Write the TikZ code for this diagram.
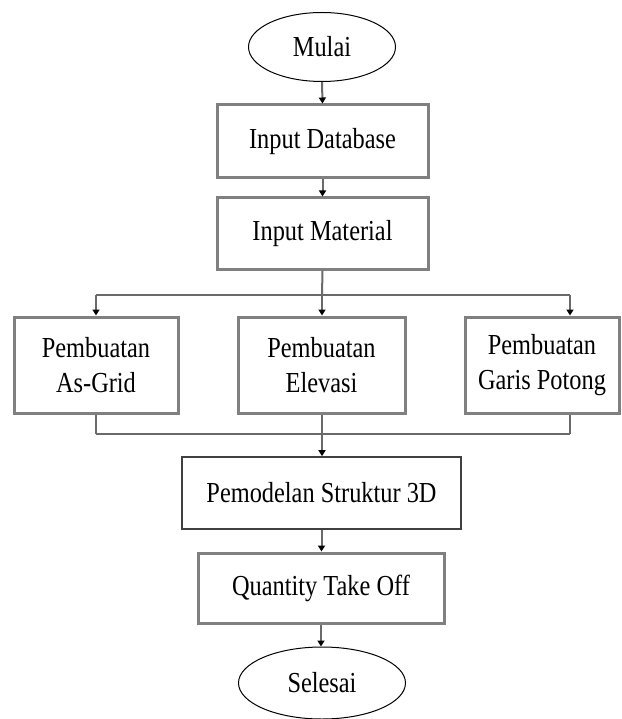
\documentclass[tikz,border=0pt]{standalone}
\usepackage{fontspec}
\setmainfont{Liberation Serif}
\usetikzlibrary{shapes.geometric,arrows.meta}
\definecolor{boxgray}{HTML}{808080}
\definecolor{linegray}{HTML}{6A6A6A}
\newcommand{\sq}[1]{\scalebox{0.84}[1]{#1}}
\begin{document}
\begin{tikzpicture}[x=1pt,y=-1pt,
  every node/.style={font=\fontsize{29}{35}\selectfont, align=center, inner sep=0pt},
  term/.style={ellipse, draw=black, line width=1pt},
  gbox/.style={rectangle, draw=boxgray, line width=3pt},
  dbox/.style={rectangle, draw=black!75, line width=1.6pt},
  conn/.style={draw=linegray, line width=2pt},
  arr/.style={conn, -{Triangle[length=6pt,width=7pt,color=black]}}]
\useasboundingbox (0,0) rectangle (621,719);
\node[term, minimum width=147pt, minimum height=69pt] (mulai) at (322,47) {\sq{Mulai}};
\node[gbox, minimum width=211pt, minimum height=73pt] (db) at (322.5,141.5) {\sq{Input Database}};
\node[gbox, minimum width=211pt, minimum height=71pt] (mat) at (322.5,233.5) {\sq{Input Material}};
\node[gbox, minimum width=164pt, minimum height=96pt] (grid) at (96,365) {\sq{Pembuatan}\\\sq{As-Grid}};
\node[gbox, minimum width=167pt, minimum height=96pt] (elev) at (321.5,365) {\sq{Pembuatan}\\\sq{Elevasi}};
\node[gbox, minimum width=154pt, minimum height=96pt] (garis) at (542,365) {\sq{Pembuatan}\\\sq{Garis Potong}};
\node[dbox, minimum width=279pt, minimum height=72pt] (pem) at (321.5,493) {\sq{Pemodelan Struktur 3D}};
\node[gbox, minimum width=246pt, minimum height=70pt] (qto) at (321,588) {\sq{Quantity Take Off}};
\node[term, minimum width=167pt, minimum height=72pt] (sel) at (322,683) {\sq{Selesai}};

\coordinate (tl) at (96,295);
\coordinate (tm) at (322,295);
\coordinate (tr) at (570,295);
\coordinate (bl) at (96,434);
\coordinate (bm) at (322,434);
\coordinate (br) at (570,434);

\draw[arr] (mulai.south) -- (db.north);
\draw[arr] (db.south) -- (mat.north);
\draw[conn] (mat.south) -- (tm);
\draw[conn] (tl) -- (tr);
\draw[arr] (tl) -- (grid.north);
\draw[arr] (tm) -- (tm |- elev.north);
\draw[arr] (tr) -- (tr |- garis.north);
\draw[conn] (grid.south) -- (bl);
\draw[conn] (bm |- elev.south) -- (bm);
\draw[conn] (br |- garis.south) -- (br);
\draw[conn] (bl) -- (br);
\draw[arr] (bm) -- (bm |- pem.north);
\draw[arr] (pem.south) -- (pem.south |- qto.north);
\draw[arr] (qto.south) -- (qto.south |- sel.north);
\end{tikzpicture}
\end{document}
